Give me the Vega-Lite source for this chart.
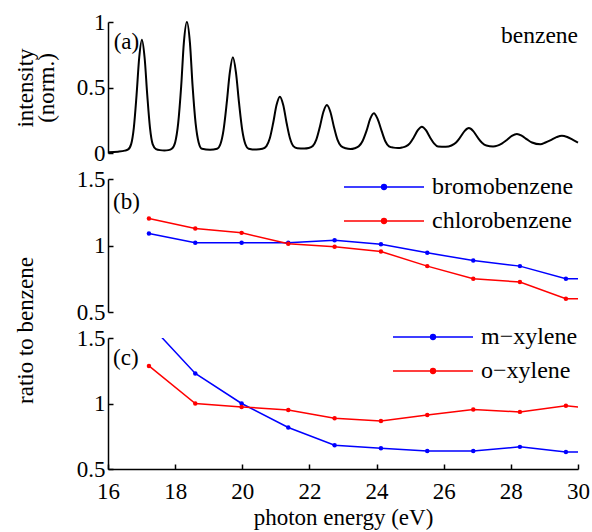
{
  "$schema": "https://vega.github.io/schema/vega-lite/v6.json",
  "padding": {"left": 14, "top": 11, "right": 5, "bottom": 5},
  "background": "white",
  "bounds": "flush",
  "config": {
    "view": {"stroke": null},
    "font": "Liberation Serif",
    "axis": {
      "grid": false,
      "domainColor": "black",
      "domainWidth": 1.5,
      "tickColor": "black",
      "tickWidth": 1.5,
      "tickSize": -5,
      "labelFlush": false,
      "labelOverlap": false,
      "labelFont": "Liberation Serif",
      "labelFontSize": 23,
      "labelColor": "black",
      "labelPadding": 8,
      "titleFont": "Liberation Serif",
      "titleFontSize": 23,
      "titleFontWeight": "normal",
      "titleColor": "black"
    },
    "legend": {
      "orient": "none",
      "title": null,
      "symbolType": "M-1,0H1M-0.06,0A0.06,0.06,0,1,0,0.06,0A0.06,0.06,0,1,0,-0.06,0Z",
      "symbolSize": 6400,
      "symbolStrokeWidth": 1.5,
      "clipHeight": 32,
      "rowPadding": 2,
      "labelFont": "Liberation Serif",
      "labelFontSize": 24,
      "labelColor": "black",
      "labelOffset": 7,
      "labelLimit": 300,
      "padding": 0,
      "offset": 0
    }
  },
  "datasets": {
    "benzene": [
      {"energy": 16.0, "intensity": 0.005}, {"energy": 16.3, "intensity": 0.01}, {"energy": 16.5, "intensity": 0.018}, {"energy": 16.59, "intensity": 0.025},
      {"energy": 16.69, "intensity": 0.068}, {"energy": 16.77, "intensity": 0.194}, {"energy": 16.85, "intensity": 0.44}, {"energy": 16.93, "intensity": 0.729},
      {"energy": 17.01, "intensity": 0.865}, {"energy": 17.09, "intensity": 0.729}, {"energy": 17.17, "intensity": 0.44}, {"energy": 17.25, "intensity": 0.194},
      {"energy": 17.33, "intensity": 0.068}, {"energy": 17.43, "intensity": 0.03}, {"energy": 17.55, "intensity": 0.022}, {"energy": 17.68, "intensity": 0.02},
      {"energy": 17.8, "intensity": 0.022}, {"energy": 17.9, "intensity": 0.032}, {"energy": 18.0, "intensity": 0.081}, {"energy": 18.09, "intensity": 0.226},
      {"energy": 18.18, "intensity": 0.51}, {"energy": 18.26, "intensity": 0.843}, {"energy": 18.35, "intensity": 1.0}, {"energy": 18.44, "intensity": 0.843},
      {"energy": 18.52, "intensity": 0.51}, {"energy": 18.61, "intensity": 0.226}, {"energy": 18.7, "intensity": 0.081}, {"energy": 18.8, "intensity": 0.032},
      {"energy": 19.04, "intensity": 0.025},
      {"energy": 19.25, "intensity": 0.033}, {"energy": 19.35, "intensity": 0.069}, {"energy": 19.44, "intensity": 0.173}, {"energy": 19.535, "intensity": 0.378},
      {"energy": 19.63, "intensity": 0.617}, {"energy": 19.72, "intensity": 0.73}, {"energy": 19.81, "intensity": 0.617}, {"energy": 19.905, "intensity": 0.378},
      {"energy": 20.0, "intensity": 0.173}, {"energy": 20.09, "intensity": 0.069}, {"energy": 20.19, "intensity": 0.033}, {"energy": 20.42, "intensity": 0.026},
      {"energy": 20.6, "intensity": 0.032}, {"energy": 20.72, "intensity": 0.053}, {"energy": 20.82, "intensity": 0.112}, {"energy": 20.92, "intensity": 0.229},
      {"energy": 21.02, "intensity": 0.366}, {"energy": 21.12, "intensity": 0.43}, {"energy": 21.22, "intensity": 0.366}, {"energy": 21.32, "intensity": 0.229},
      {"energy": 21.42, "intensity": 0.112}, {"energy": 21.52, "intensity": 0.053}, {"energy": 21.64, "intensity": 0.036}, {"energy": 21.85, "intensity": 0.034},
      {"energy": 21.98, "intensity": 0.038}, {"energy": 22.1, "intensity": 0.053}, {"energy": 22.205, "intensity": 0.102}, {"energy": 22.31, "intensity": 0.199},
      {"energy": 22.415, "intensity": 0.313}, {"energy": 22.52, "intensity": 0.366}, {"energy": 22.625, "intensity": 0.313}, {"energy": 22.73, "intensity": 0.199},
      {"energy": 22.835, "intensity": 0.102}, {"energy": 22.94, "intensity": 0.053}, {"energy": 23.08, "intensity": 0.036}, {"energy": 23.22, "intensity": 0.03},
      {"energy": 23.35, "intensity": 0.036}, {"energy": 23.47, "intensity": 0.051}, {"energy": 23.58, "intensity": 0.09}, {"energy": 23.7, "intensity": 0.169},
      {"energy": 23.81, "intensity": 0.26}, {"energy": 23.92, "intensity": 0.303}, {"energy": 24.03, "intensity": 0.26}, {"energy": 24.15, "intensity": 0.169},
      {"energy": 24.26, "intensity": 0.09}, {"energy": 24.37, "intensity": 0.051}, {"energy": 24.5, "intensity": 0.041}, {"energy": 24.64, "intensity": 0.038},
      {"energy": 24.76, "intensity": 0.042}, {"energy": 24.87, "intensity": 0.05}, {"energy": 24.99, "intensity": 0.074}, {"energy": 25.11, "intensity": 0.12},
      {"energy": 25.23, "intensity": 0.174}, {"energy": 25.35, "intensity": 0.2}, {"energy": 25.47, "intensity": 0.174}, {"energy": 25.59, "intensity": 0.12},
      {"energy": 25.71, "intensity": 0.074}, {"energy": 25.83, "intensity": 0.05}, {"energy": 26.06, "intensity": 0.047},
      {"energy": 26.23, "intensity": 0.057}, {"energy": 26.36, "intensity": 0.078}, {"energy": 26.49, "intensity": 0.119}, {"energy": 26.62, "intensity": 0.167},
      {"energy": 26.75, "intensity": 0.19}, {"energy": 26.88, "intensity": 0.167}, {"energy": 27.01, "intensity": 0.119}, {"energy": 27.14, "intensity": 0.078},
      {"energy": 27.27, "intensity": 0.057}, {"energy": 27.47, "intensity": 0.05},
      {"energy": 27.6, "intensity": 0.056}, {"energy": 27.73, "intensity": 0.072}, {"energy": 27.88, "intensity": 0.099}, {"energy": 28.03, "intensity": 0.13},
      {"energy": 28.18, "intensity": 0.145}, {"energy": 28.33, "intensity": 0.131}, {"energy": 28.48, "intensity": 0.104}, {"energy": 28.63, "intensity": 0.08},
      {"energy": 28.88, "intensity": 0.066},
      {"energy": 29.03, "intensity": 0.08}, {"energy": 29.19, "intensity": 0.099}, {"energy": 29.36, "intensity": 0.121}, {"energy": 29.52, "intensity": 0.132},
      {"energy": 29.68, "intensity": 0.122}, {"energy": 29.85, "intensity": 0.1}, {"energy": 30.0, "intensity": 0.08}
    ],
    "ratios": [
      {"panel": "b", "molecule": "bromobenzene", "energy": 17.22, "ratio": 1.09},
      {"panel": "b", "molecule": "bromobenzene", "energy": 18.6, "ratio": 1.02},
      {"panel": "b", "molecule": "bromobenzene", "energy": 19.98, "ratio": 1.02},
      {"panel": "b", "molecule": "bromobenzene", "energy": 21.37, "ratio": 1.02},
      {"panel": "b", "molecule": "bromobenzene", "energy": 22.75, "ratio": 1.04},
      {"panel": "b", "molecule": "bromobenzene", "energy": 24.13, "ratio": 1.01},
      {"panel": "b", "molecule": "bromobenzene", "energy": 25.51, "ratio": 0.945},
      {"panel": "b", "molecule": "bromobenzene", "energy": 26.88, "ratio": 0.887},
      {"panel": "b", "molecule": "bromobenzene", "energy": 28.27, "ratio": 0.845},
      {"panel": "b", "molecule": "bromobenzene", "energy": 29.64, "ratio": 0.75},
      {"panel": "b", "molecule": "bromobenzene", "energy": 31.02, "ratio": 0.75},
      {"panel": "b", "molecule": "chlorobenzene", "energy": 17.22, "ratio": 1.203},
      {"panel": "b", "molecule": "chlorobenzene", "energy": 18.6, "ratio": 1.128},
      {"panel": "b", "molecule": "chlorobenzene", "energy": 19.98, "ratio": 1.095},
      {"panel": "b", "molecule": "chlorobenzene", "energy": 21.37, "ratio": 1.013},
      {"panel": "b", "molecule": "chlorobenzene", "energy": 22.75, "ratio": 0.99},
      {"panel": "b", "molecule": "chlorobenzene", "energy": 24.13, "ratio": 0.955},
      {"panel": "b", "molecule": "chlorobenzene", "energy": 25.51, "ratio": 0.845},
      {"panel": "b", "molecule": "chlorobenzene", "energy": 26.88, "ratio": 0.75},
      {"panel": "b", "molecule": "chlorobenzene", "energy": 28.27, "ratio": 0.725},
      {"panel": "b", "molecule": "chlorobenzene", "energy": 29.64, "ratio": 0.6},
      {"panel": "b", "molecule": "chlorobenzene", "energy": 31.02, "ratio": 0.6},
      {"panel": "c", "molecule": "m−xylene", "energy": 17.22, "ratio": 1.61},
      {"panel": "c", "molecule": "m−xylene", "energy": 18.6, "ratio": 1.229},
      {"panel": "c", "molecule": "m−xylene", "energy": 19.98, "ratio": 1.0},
      {"panel": "c", "molecule": "m−xylene", "energy": 21.37, "ratio": 0.817},
      {"panel": "c", "molecule": "m−xylene", "energy": 22.75, "ratio": 0.682},
      {"panel": "c", "molecule": "m−xylene", "energy": 24.13, "ratio": 0.659},
      {"panel": "c", "molecule": "m−xylene", "energy": 25.51, "ratio": 0.638},
      {"panel": "c", "molecule": "m−xylene", "energy": 26.88, "ratio": 0.638},
      {"panel": "c", "molecule": "m−xylene", "energy": 28.27, "ratio": 0.669},
      {"panel": "c", "molecule": "m−xylene", "energy": 29.64, "ratio": 0.63},
      {"panel": "c", "molecule": "m−xylene", "energy": 31.02, "ratio": 0.63},
      {"panel": "c", "molecule": "o−xylene", "energy": 17.22, "ratio": 1.287},
      {"panel": "c", "molecule": "o−xylene", "energy": 18.6, "ratio": 1.0},
      {"panel": "c", "molecule": "o−xylene", "energy": 19.98, "ratio": 0.974},
      {"panel": "c", "molecule": "o−xylene", "energy": 21.37, "ratio": 0.951},
      {"panel": "c", "molecule": "o−xylene", "energy": 22.75, "ratio": 0.888},
      {"panel": "c", "molecule": "o−xylene", "energy": 24.13, "ratio": 0.867},
      {"panel": "c", "molecule": "o−xylene", "energy": 25.51, "ratio": 0.913},
      {"panel": "c", "molecule": "o−xylene", "energy": 26.88, "ratio": 0.954},
      {"panel": "c", "molecule": "o−xylene", "energy": 28.27, "ratio": 0.936},
      {"panel": "c", "molecule": "o−xylene", "energy": 29.64, "ratio": 0.982},
      {"panel": "c", "molecule": "o−xylene", "energy": 31.02, "ratio": 0.947}
    ]
  },
  "spacing": 26,
  "resolve": {"scale": {"y": "independent", "color": "independent"}, "legend": {"color": "independent"}},
  "vconcat": [
    {
      "width": 470,
      "height": 131,
      "layer": [
        {
          "data": {"name": "benzene"},
          "mark": {"type": "line", "color": "black", "strokeWidth": 2, "interpolate": "monotone"},
          "encoding": {
            "x": {"field": "energy", "type": "quantitative", "scale": {"domain": [16, 30], "nice": false}, "axis": null},
            "y": {"field": "intensity", "type": "quantitative", "scale": {"domain": [0, 1], "nice": false},
                  "axis": {"values": [0, 0.5, 1], "format": "~g", "title": ["intensity", "(norm.)"], "titleX": -76, "titleBaseline": "alphabetic", "titleLineHeight": 21, "titleAngle": -90}}
          }
        },
        {
          "data": {"values": [{"label": "(a)"}]},
          "mark": {"type": "text", "align": "left", "baseline": "middle", "fontSize": 23, "font": "Liberation Serif", "color": "black"},
          "encoding": {"text": {"field": "label"}, "x": {"datum": 16.17, "type": "quantitative"}, "y": {"datum": 0.85, "type": "quantitative"}}
        },
        {
          "data": {"values": [{"label": "benzene"}]},
          "mark": {"type": "text", "align": "right", "baseline": "middle", "fontSize": 23.5, "font": "Liberation Serif", "color": "black"},
          "encoding": {"text": {"field": "label"}, "x": {"datum": 30, "type": "quantitative"}, "y": {"datum": 0.893, "type": "quantitative"}}
        }
      ]
    },
    {
      "width": 470,
      "height": 133,
      "layer": [
        {
          "data": {"name": "ratios"},
          "transform": [{"filter": "datum.panel == 'b'"}],
          "mark": {"type": "line", "strokeWidth": 1.5, "clip": true},
          "encoding": {
            "x": {"field": "energy", "type": "quantitative", "scale": {"domain": [16, 30], "nice": false}, "axis": null},
            "y": {"field": "ratio", "type": "quantitative", "scale": {"domain": [0.5, 1.5], "nice": false},
                  "axis": {"values": [0.5, 1, 1.5], "format": "~g", "title": "ratio to benzene", "titleX": -76, "titleY": 151, "titleBaseline": "alphabetic", "titleAngle": -90}},
            "color": {"field": "molecule", "type": "nominal", "scale": {"domain": ["bromobenzene", "chlorobenzene"], "range": ["#0000ff", "#ff0000"]},
                      "legend": {"legendX": 235, "legendY": -8}}
          }
        },
        {
          "data": {"name": "ratios"},
          "transform": [{"filter": "datum.panel == 'b'"}],
          "mark": {"type": "point", "filled": true, "size": 20, "opacity": 1, "clip": true},
          "encoding": {
            "x": {"field": "energy", "type": "quantitative"},
            "y": {"field": "ratio", "type": "quantitative"},
            "color": {"field": "molecule", "type": "nominal"}
          }
        },
        {
          "data": {"values": [{"label": "(b)"}]},
          "mark": {"type": "text", "align": "left", "baseline": "middle", "fontSize": 23, "font": "Liberation Serif", "color": "black"},
          "encoding": {"text": {"field": "label"}, "x": {"datum": 16.15, "type": "quantitative"}, "y": {"datum": 1.33, "type": "quantitative"}}
        }
      ]
    },
    {
      "width": 470,
      "height": 131,
      "layer": [
        {
          "data": {"name": "ratios"},
          "transform": [{"filter": "datum.panel == 'c'"}],
          "mark": {"type": "line", "strokeWidth": 1.5, "clip": true},
          "encoding": {
            "x": {"field": "energy", "type": "quantitative", "scale": {"domain": [16, 30], "nice": false},
                  "axis": {"values": [16, 18, 20, 22, 24, 26, 28, 30], "title": "photon energy (eV)", "labelPadding": 16, "titlePadding": 3}},
            "y": {"field": "ratio", "type": "quantitative", "scale": {"domain": [0.5, 1.5], "nice": false},
                  "axis": {"values": [0.5, 1, 1.5], "format": "~g", "title": null}},
            "color": {"field": "molecule", "type": "nominal", "scale": {"domain": ["m−xylene", "o−xylene"], "range": ["#0000ff", "#ff0000"]},
                      "legend": {"legendX": 284, "legendY": -17}}
          }
        },
        {
          "data": {"name": "ratios"},
          "transform": [{"filter": "datum.panel == 'c'"}],
          "mark": {"type": "point", "filled": true, "size": 20, "opacity": 1, "clip": true},
          "encoding": {
            "x": {"field": "energy", "type": "quantitative"},
            "y": {"field": "ratio", "type": "quantitative"},
            "color": {"field": "molecule", "type": "nominal"}
          }
        },
        {
          "data": {"values": [{"label": "(c)"}]},
          "mark": {"type": "text", "align": "left", "baseline": "middle", "fontSize": 23, "font": "Liberation Serif", "color": "black"},
          "encoding": {"text": {"field": "label"}, "x": {"datum": 16.15, "type": "quantitative"}, "y": {"datum": 1.346, "type": "quantitative"}}
        }
      ]
    }
  ]
}
